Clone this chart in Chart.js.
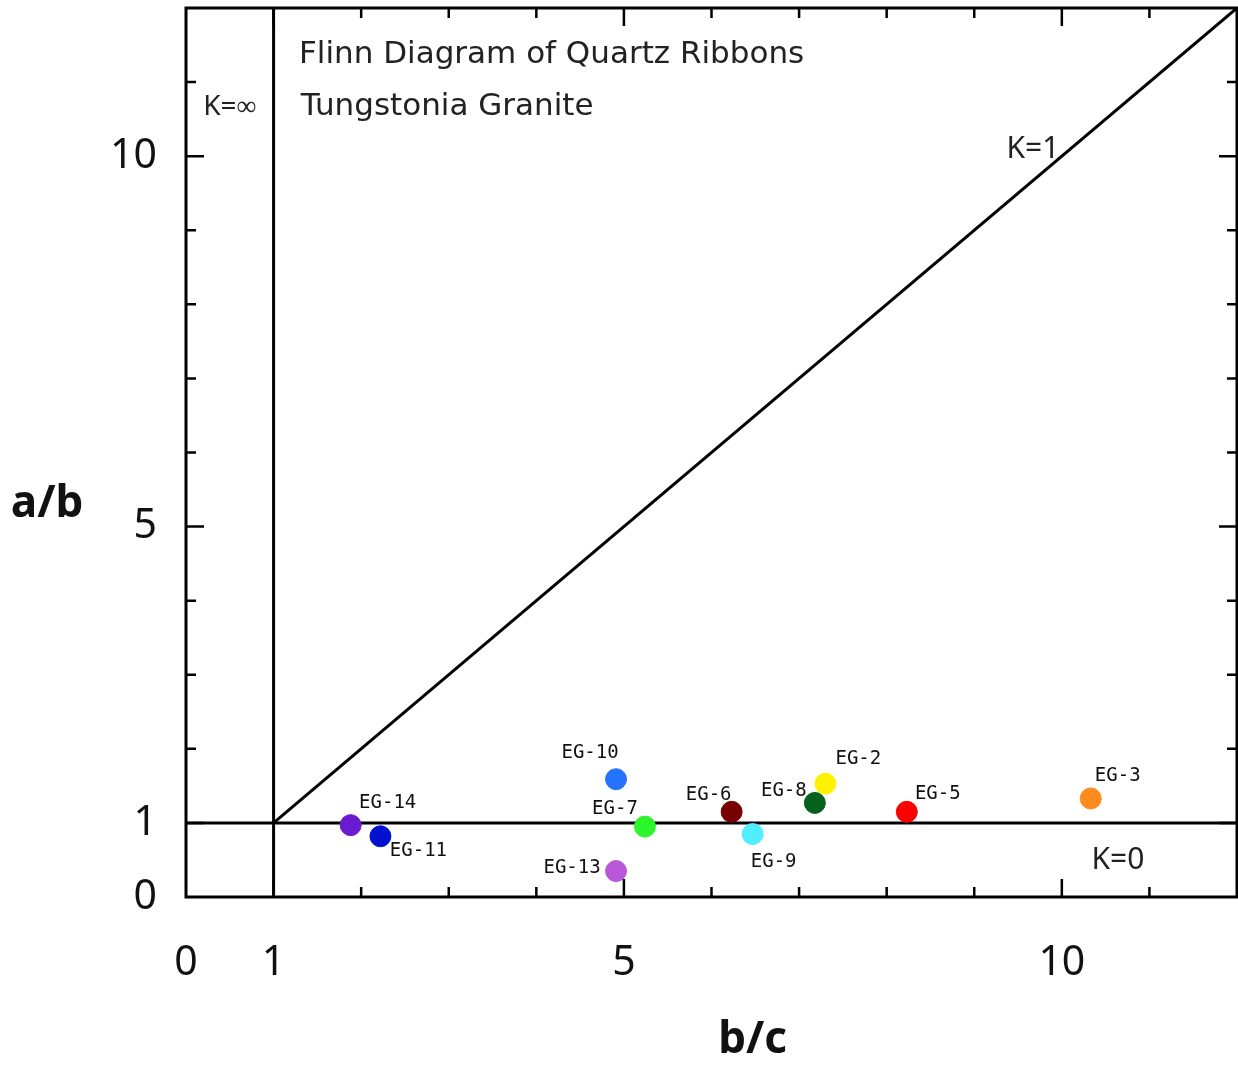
<!DOCTYPE html>
<html>
<head>
<meta charset="utf-8">
<script src="https://cdn.jsdelivr.net/npm/chart.js@4.4.1/dist/chart.umd.min.js"></script>
<style>
  body { margin: 0; background: #fff; }
  canvas { display: block; }
</style>
</head>
<body>
<canvas id="chart1" width="1238" height="1065"></canvas>
<script>
// samples (b/c on x, a/b on y)
const sampleNames = ['EG-14', 'EG-11', 'EG-10', 'EG-7', 'EG-13', 'EG-6', 'EG-9', 'EG-8', 'EG-2', 'EG-5', 'EG-3'];
const bcValues = [1.88, 2.22, 4.91, 5.24, 4.91, 6.23, 6.47, 7.18, 7.30, 8.23, 10.33];
const abValues = [0.97, 0.82, 1.59, 0.95, 0.35, 1.15, 0.85, 1.27, 1.53, 1.15, 1.33];
const sampleColors = ['#6a1bd1', '#0012d0', '#2473fa', '#2cf52c', '#b858d8', '#780000',
                      '#50eeff', '#05611c', '#fff200', '#ff0000', '#ff8a1e'];

// K lines
const kInfX = [1, 1];
const kInfY = [0, 12];
const kZeroX = [0, 12];
const kZeroY = [1, 1];
const kOneX = [1, 12];
const kOneY = [1, 12];

const tickLabels = [0, 1, 5, 10];
const majorTicks = [1, 5, 10];

// label offsets in px from the point
const labelOffsets = [[37, -22], [38, 15], [-26, -26], [-30, -18], [-44, -3], [-23, -17],
                      [21, 28], [-31, -12], [33, -25], [31, -18], [27, -22]];

const toXY = (xs, ys) => xs.map((x, i) => ({ x: x, y: ys[i] }));

const lineSet = (xs, ys) => ({
  type: 'line',
  data: toXY(xs, ys),
  borderColor: '#000',
  borderWidth: 3,
  pointRadius: 0,
  showLine: true,
  fill: false,
  order: 2,
});

// no extra label padding around the plot box
const fixScale = (w, h) => (scale) => {
  if (w) scale.width = w;
  if (h) scale.height = h;
  scale.paddingTop = 0;
  scale.paddingBottom = 0;
  scale.paddingLeft = 0;
  scale.paddingRight = 0;
};

const frame = {
  id: 'frame',
  afterDraw(chart) {
    const ctx = chart.ctx;
    const a = chart.chartArea;
    const xs = chart.scales.x;
    const ys = chart.scales.y;
    ctx.save();
    ctx.strokeStyle = '#000';
    ctx.lineWidth = 3;
    ctx.strokeRect(a.left, a.top, a.right - a.left, a.bottom - a.top);

    ctx.lineWidth = 2.5;
    ctx.beginPath();
    for (let v = 1; v < 12; v++) {
      const len = majorTicks.includes(v) ? 18 : 10;
      const px = xs.getPixelForValue(v);
      ctx.moveTo(px, a.bottom); ctx.lineTo(px, a.bottom - len);
      ctx.moveTo(px, a.top); ctx.lineTo(px, a.top + len);
      const py = ys.getPixelForValue(v);
      ctx.moveTo(a.left, py); ctx.lineTo(a.left + len, py);
      ctx.moveTo(a.right, py); ctx.lineTo(a.right - len, py);
    }
    ctx.stroke();

    // sample labels
    const meta = chart.getDatasetMeta(0);
    ctx.fillStyle = '#111';
    ctx.font = '19px "DejaVu Sans Mono"';
    ctx.textAlign = 'center';
    ctx.textBaseline = 'middle';
    meta.data.forEach((pt, i) => {
      ctx.fillText(sampleNames[i], pt.x + labelOffsets[i][0], pt.y + labelOffsets[i][1]);
    });

    // notes
    ctx.fillStyle = '#222';
    ctx.font = '31px "DejaVu Sans"';
    ctx.textAlign = 'left';
    ctx.fillText('Flinn Diagram of Quartz Ribbons', xs.getPixelForValue(1.29), ys.getPixelForValue(11.36));
    ctx.fillText('Tungstonia Granite', xs.getPixelForValue(1.31), ys.getPixelForValue(10.67));
    ctx.font = '30px "Noto Sans"';
    ctx.textAlign = 'center';
    ctx.fillText('K=1', xs.getPixelForValue(9.67), ys.getPixelForValue(10.09));
    ctx.fillText('K=0', xs.getPixelForValue(10.64), ys.getPixelForValue(0.49));
    ctx.font = '28px "Noto Sans"';
    ctx.fillText('K=\u221e', xs.getPixelForValue(0.5), ys.getPixelForValue(10.66));

    // axis titles
    ctx.fillStyle = '#111';
    ctx.font = 'bold 44px "Noto Sans"';
    ctx.fillText('b/c', xs.getPixelForValue(6.47), a.bottom + 143);
    ctx.fillText('a/b', 47, ys.getPixelForValue(5.3));
    ctx.restore();
  }
};

new Chart(
  document.getElementById('chart1'),
  {
    type: 'scatter',
    data: {
      datasets: [
        {
          label: 'samples',
          data: toXY(bcValues, abValues),
          backgroundColor: sampleColors,
          borderColor: sampleColors,
          pointRadius: 10.5,
          pointHoverRadius: 10.5,
          order: 1,
        },
        lineSet(kInfX, kInfY),
        lineSet(kZeroX, kZeroY),
        lineSet(kOneX, kOneY),
      ]
    },
    options: {
      responsive: false,
      animation: false,
      layout: {
        autoPadding: false,
        padding: { top: 8, right: 1, left: 0, bottom: 0 },
      },
      plugins: {
        legend: { display: false },
        tooltip: { enabled: false },
      },
      scales: {
        x: {
          type: 'linear',
          min: 0,
          max: 12,
          grid: { display: false, drawTicks: false },
          border: { display: false },
          afterFit: fixScale(null, 168),
          ticks: {
            stepSize: 1,
            autoSkip: false,
            maxRotation: 0,
            padding: 42,
            color: '#111',
            font: { family: 'Noto Sans', size: 41 },
            callback: (v) => tickLabels.includes(v) ? String(v) : '',
          },
        },
        y: {
          type: 'linear',
          min: 0,
          max: 12,
          grid: { display: false, drawTicks: false },
          border: { display: false },
          afterFit: fixScale(186, null),
          ticks: {
            stepSize: 1,
            autoSkip: false,
            padding: 29,
            color: '#111',
            font: { family: 'Noto Sans', size: 41 },
            callback: (v) => tickLabels.includes(v) ? String(v) : '',
          },
        }
      }
    },
    plugins: [frame],
  }
);
</script>
</body>
</html>
